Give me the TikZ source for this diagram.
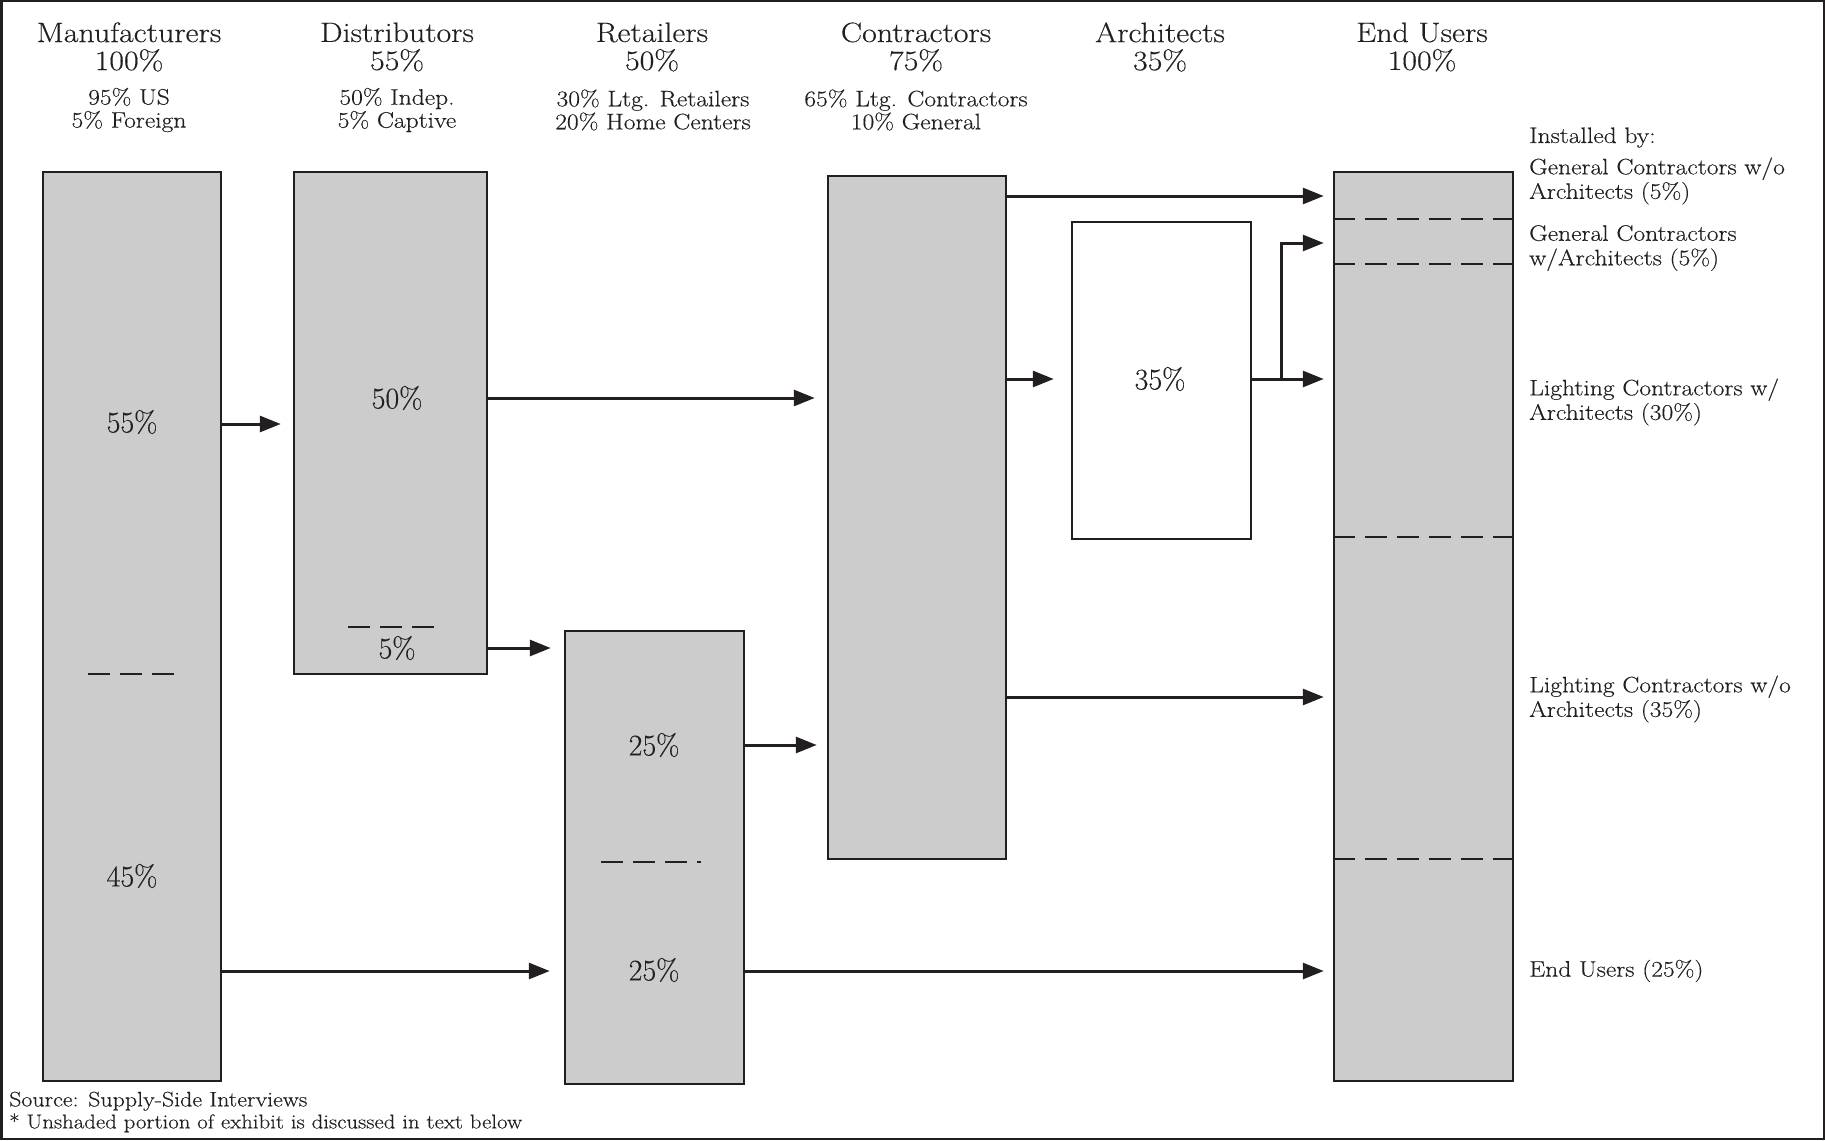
\documentclass[tikz,border=0pt]{standalone}
\usepackage{fontspec}
\setmainfont{Latin Modern Roman}[FakeBold=0.35]
\newfontfamily\widefont{Latin Modern Roman}[FakeStretch=1.14,FakeBold=0.35]
\usetikzlibrary{arrows.meta}
\definecolor{ink}{HTML}{231F20}
\definecolor{boxgray}{HTML}{CCCCCC}
\tikzset{
  box/.style={draw=ink, fill=boxgray, line width=2.5pt, inner sep=0pt},
  wbox/.style={draw=ink, fill=white, line width=2.5pt, inner sep=0pt},
  arr/.style={draw=ink, line width=3pt, -{Triangle[length=21pt,width=16pt]}},
  dline/.style={draw=ink, line width=2.5pt, dash pattern=on 22pt off 10pt},
  ttl/.style={text=ink, align=center, inner sep=0pt, font=\widefont\fontsize{28}{28}\selectfont},
  sub/.style={text=ink, align=center, inner sep=0pt, font=\widefont\fontsize{22.4}{23}\selectfont},
  lbl/.style={text=ink, inner sep=0pt, font=\fontsize{30}{30}\selectfont},
  rlbl/.style={text=ink, align=left, anchor=west, inner sep=0pt, font=\widefont\fontsize{22.4}{24.5}\selectfont},
  src/.style={text=ink, align=left, anchor=west, inner sep=0pt, font=\widefont\fontsize{21}{22}\selectfont},
}
\begin{document}
\begin{tikzpicture}[x=1pt,y=-1pt]
\useasboundingbox (0,0) rectangle (1825,1140);
\draw[draw=ink, line width=2.5pt] (1.25,1.25) rectangle (1823.75,1138.75);

% headers
\node[ttl] (h1) at (129,47) {Manufacturers\\100\%};
\node[ttl] (h2) at (397,47) {Distributors\\55\%};
\node[ttl] (h3) at (652,47) {Retailers\\50\%};
\node[ttl] (h4) at (916,47) {Contractors\\75\%};
\node[ttl] (h5) at (1160,47) {Architects\\35\%};
\node[ttl] (h6) at (1422,47) {End Users\\100\%};
\node[sub] (s1) at (129,110) {95\% US\\5\% Foreign};
\node[sub] (s2) at (397,110) {50\% Indep.\\5\% Captive};
\node[sub] (s3) at (653,110) {30\% Ltg. Retailers\\20\% Home Centers};
\node[sub] (s4) at (916,110) {65\% Ltg. Contractors\\10\% General};

% boxes
\node[box, minimum width=178pt, minimum height=909pt] (mfr) at (132,626.5) {};
\node[box, minimum width=193pt, minimum height=502pt] (dist) at (390.5,423) {};
\node[box, minimum width=179pt, minimum height=453pt] (ret) at (654.5,857.5) {};
\node[box, minimum width=178pt, minimum height=683pt] (con) at (917,517.5) {};
\node[wbox, minimum width=179pt, minimum height=317pt] (arc) at (1161.5,380.5) {};
\node[box, minimum width=179pt, minimum height=909pt] (endu) at (1423.5,626.5) {};

% dashed separators
\draw[dline] (88,674) -- (175,674);
\draw[dline] (348,627) -- (434,627);
\draw[dline] (601,862) -- (701,862);
\draw[dline] (endu.west |- 0,219) -- (endu.east |- 0,219);
\draw[dline] (endu.west |- 0,264) -- (endu.east |- 0,264);
\draw[dline] (endu.west |- 0,537) -- (endu.east |- 0,537);
\draw[dline] (endu.west |- 0,859) -- (endu.east |- 0,859);

% box labels
\node[lbl] (l1) at (132,422) {55\%};
\node[lbl] (l2) at (132,876) {45\%};
\node[lbl] (l3) at (397,398) {50\%};
\node[lbl] (l4) at (397,648) {5\%};
\node[lbl] (l5) at (654,745) {25\%};
\node[lbl] (l6) at (654,970) {25\%};
\node[lbl] (l7) at (1160,379) {35\%};

% arrows
\draw[arr, shorten >=12pt] (mfr.east |- 0,424) -- (dist.west |- 0,424);
\draw[arr, shorten >=12pt] (dist.east |- 0,398) -- (con.west |- 0,398);
\draw[arr, shorten >=13pt] (dist.east |- 0,648) -- (ret.west |- 0,648);
\draw[arr, shorten >=10pt] (ret.east |- 0,745) -- (con.west |- 0,745);
\draw[arr, shorten >=14pt] (mfr.east |- 0,971) -- (ret.west |- 0,971);
\draw[arr, shorten >=9pt] (ret.east |- 0,971) -- (endu.west |- 0,971);
\draw[arr, shorten >=9pt] (con.east |- 0,196) -- (endu.west |- 0,196);
\draw[arr, shorten >=17pt] (con.east |- 0,379) -- (arc.west |- 0,379);
\draw[arr, shorten >=9pt] (arc.east |- 0,379) -- (endu.west |- 0,379);
\coordinate (br) at (1281,380.5);
\draw[arr, shorten >=9pt] (br) |- (endu.west |- 0,243);
\draw[arr, shorten >=9pt] (con.east |- 0,697) -- (endu.west |- 0,697);

% right labels
\node[rlbl] (r0) at (1529,137.5) {Installed by:};
\node[rlbl] (r1) at (1529,181) {General Contractors w/o\\Architects (5\%)};
\node[rlbl] (r2) at (1529,248) {General Contractors\\w/Architects (5\%)};
\node[rlbl] (r3) at (1529,402) {Lighting Contractors w/\\Architects (30\%)};
\node[rlbl] (r4) at (1529,699) {Lighting Contractors w/o\\Architects (35\%)};
\node[rlbl] (r5) at (1529,971) {End Users (25\%)};

% source
\node[src] (src) at (9,1112) {Source: Supply-Side Interviews\\{\fontsize{20}{22}\selectfont * Unshaded portion of exhibit is discussed in text below}};
\end{tikzpicture}
\end{document}
